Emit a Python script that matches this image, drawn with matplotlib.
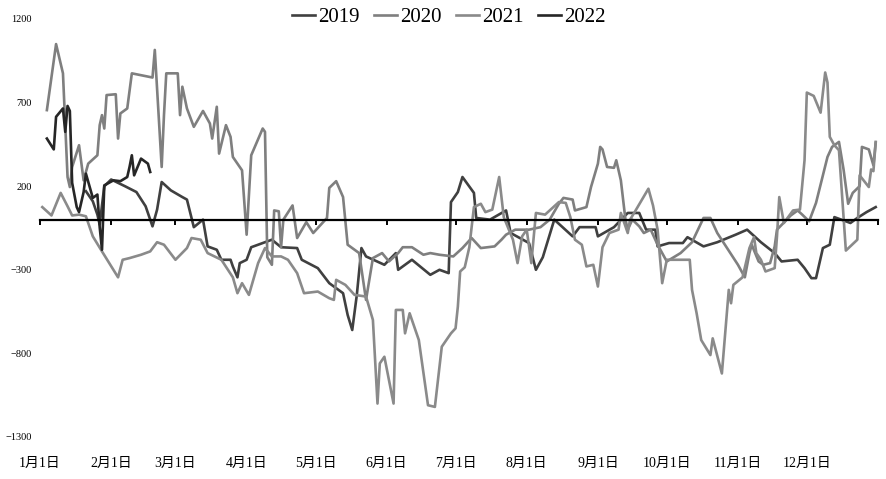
import matplotlib
matplotlib.use("Agg")
import matplotlib.pyplot as plt

plt.rcParams['font.family'] = ['Liberation Serif', 'Noto Sans CJK SC']

# day-of-year (0 = 1月1日) and values
days_2019 = [20, 23, 25, 26, 28, 31, 37, 42, 46, 49, 51, 53, 57, 62, 64, 67, 71, 73, 77, 79,
             83, 84, 86, 87, 90, 92, 97, 101, 105, 112, 114, 121, 126, 132, 134, 136, 138, 140,
             142, 150, 155, 156, 162, 170, 174, 178, 179, 182, 184, 189, 190, 196, 203, 205,
             213, 216, 219, 224, 232, 235, 242, 243, 250, 256, 261, 264, 268, 269, 274, 280,
             282, 289, 295, 303, 308, 314, 320, 323, 330, 333, 336, 338, 341, 344, 346, 349,
             353, 356, 360, 364]
vals_2019 = [170, 110, 30, -30, 200, 240, 200, 165, 80, -40, 60, 225, 175, 135, 120, -45, 0,
             -160, -180, -240, -240, -280, -345, -260, -240, -165, -140, -120, -165, -170, -240,
             -290, -380, -440, -570, -660, -450, -170, -220, -270, -200, -300, -240, -330, -300,
             -320, 105, 165, 255, 160, 10, 0, 55, -80, -140, -300, -225, 0, -100, -45, -45, -100,
             -45, 40, 40, -60, -60, -160, -140, -140, -105, -160, -135, -90, -60, -135, -200,
             -250, -240, -290, -350, -350, -170, -150, 15, 0, -20, 10, 45, 75]

days_2020 = [3, 7, 10, 12, 13, 14, 17, 19, 21, 25, 26, 27, 28, 29, 33, 34, 35, 38, 40, 49, 50,
             53, 54, 55, 60, 61, 62, 64, 67, 71, 74, 75, 77, 78, 81, 83, 84, 88, 90, 92, 97, 98,
             99, 101, 102, 104, 105, 106, 110, 112, 116, 119, 125, 126, 129, 132, 134, 139, 142,
             145, 149, 152, 156, 158, 162, 167, 170, 174, 180, 184, 188, 192, 198, 201, 203, 207,
             213, 218, 222, 226, 228, 232, 233, 238, 240, 243, 244, 245, 247, 250, 251, 253, 255,
             256, 258, 261, 263, 266, 269, 273, 279, 284, 289, 292, 295, 304, 307, 309, 310, 313,
             315, 318, 320, 321, 327, 330, 332, 335, 338, 343, 345, 348, 350, 352, 354, 357, 358,
             361, 363, 364]
vals_2020 = [655, 1050, 875, 255, 195, 315, 445, 235, 335, 385, 565, 625, 545, 745, 750, 485,
             635, 665, 875, 850, 1015, 315, 625, 875, 875, 625, 795, 665, 555, 650, 575, 485, 675,
             395, 565, 495, 375, 295, -90, 385, 545, 525, -225, -270, 55, 50, -165, 0, 85, -110,
             -15, -80, 10, 190, 230, 135, -150, -200, -480, -230, -200, -250, -200, -165, -165,
             -210, -200, -210, -220, -170, -110, -170, -160, -120, -90, -60, -60, -45, 0, 95, 130,
             120, 55, 75, 195, 335, 435, 420, 315, 310, 355, 235, 0, -60, 0, -40, -80, -60, -150,
             -250, -200, -135, 10, 10, -80, -270, -345, -200, -150, -250, -270, -260, -160, -60,
             25, 55, 30, -10, 100, 375, 435, 465, 300, 95, 160, 200, 435, 420, 325, 460]

days_2021 = [1, 5, 9, 12, 14, 17, 20, 21, 23, 27, 34, 36, 39, 44, 48, 51, 54, 59, 64, 66, 70,
             73, 79, 84, 86, 88, 91, 95, 98, 101, 105, 108, 112, 115, 121, 126, 128, 129, 133,
             137, 142, 145, 147, 148, 150, 154, 155, 158, 159, 161, 165, 169, 172, 175, 179, 181,
             182, 183, 185, 187, 189, 192, 194, 197, 200, 202, 206, 208, 210, 212, 214, 216, 220,
             226, 229, 231, 233, 236, 238, 241, 243, 245, 248, 252, 253, 256, 257, 259, 265, 267,
             269, 271, 273, 283, 284, 286, 288, 292, 293, 297, 300, 301, 302, 306, 309, 311, 312,
             314, 316, 320, 321, 322, 324, 328, 331, 333, 334, 337, 340, 342, 343, 344, 346, 348,
             351, 356, 357, 361, 362, 363, 364]
vals_2021 = [75, 25, 160, 80, 25, 30, 20, -20, -100, -190, -345, -240, -230, -210, -190, -135,
             -150, -240, -170, -110, -120, -200, -240, -345, -440, -380, -450, -260, -170, -220,
             -220, -240, -320, -440, -430, -470, -480, -360, -390, -450, -460, -600, -1100, -860,
             -820, -1100, -540, -540, -680, -560, -720, -1110, -1120, -760, -680, -650, -520, -310,
             -285, -165, 75, 95, 45, 60, 255, 15, -120, -260, -100, -60, -260, 40, 30, 105, 100,
             15, -120, -150, -280, -270, -400, -165, -80, -60, 40, -80, 0, 45, 185, 85, -60, -380,
             -240, -240, -420, -560, -720, -810, -710, -920, -420, -500, -390, -345, -170, -105,
             -200, -240, -310, -290, -100, 135, -20, 55, 60, 355, 760, 740, 640, 880, 820, 495,
             445, 415, -185, -120, 265, 195, 300, 290, 465]

days_2022 = [3, 6, 7, 10, 11, 12, 13, 14, 16, 17, 19, 20, 23, 25, 26, 27, 28, 30, 32, 35, 38,
             39, 40, 41, 44, 47, 48]
vals_2022 = [485, 420, 615, 665, 525, 680, 650, 220, 75, 45, 165, 275, 130, 150, -45, -180, 205,
             220, 235, 230, 255, 315, 385, 265, 365, 335, 285]

month_days = [0, 31, 59, 90, 120, 151, 181, 212, 243, 273, 304, 334]
month_labels = ['1月1日', '2月1日', '3月1日', '4月1日', '5月1日', '6月1日',
                '7月1日', '8月1日', '9月1日', '10月1日', '11月1日', '12月1日']
y_ticks = [1200, 700, 200, -300, -800, -1300]

fig = plt.figure(figsize=(8.87, 4.79), dpi=100)
ax = fig.add_axes([40/887, 1-437/479, 838/887, 418/479])

lw = 1.9
ax.plot(days_2019, vals_2019, color='#404040', lw=lw, label='2019')
ax.plot(days_2020, vals_2020, color='#7f7f7f', lw=lw, label='2020')
ax.plot(days_2021, vals_2021, color='#8a8a8a', lw=lw, label='2021')
ax.plot(days_2022, vals_2022, color='#262626', lw=lw, label='2022')

ax.set_xlim(0, 365)
ax.set_ylim(-1300, 1200)
ax.set_yticks(y_ticks)
ax.tick_params(axis='y', length=0, labelsize=7.5, pad=6)

for s in ['top', 'right', 'left']:
    ax.spines[s].set_visible(False)
ax.spines['bottom'].set_position(('data', 0))
ax.spines['bottom'].set_linewidth(1.6)
ax.spines['bottom'].set_zorder(5)
ax.set_xticks(month_days + [365])
ax.tick_params(axis='x', direction='out', length=3.5, width=1.4, labelbottom=False)

sec = ax.secondary_xaxis('bottom')
sec.set_xticks(month_days, month_labels)
sec.tick_params(length=0, labelsize=10, pad=14)
sec.spines['bottom'].set_visible(False)

fig.legend(loc='center', bbox_to_anchor=(0.506, 1-17/479), ncol=4, frameon=False,
           fontsize=15, handlelength=1.1, handletextpad=0.15, columnspacing=0.7,
           borderaxespad=0)

fig.savefig('out.png', dpi=100)
